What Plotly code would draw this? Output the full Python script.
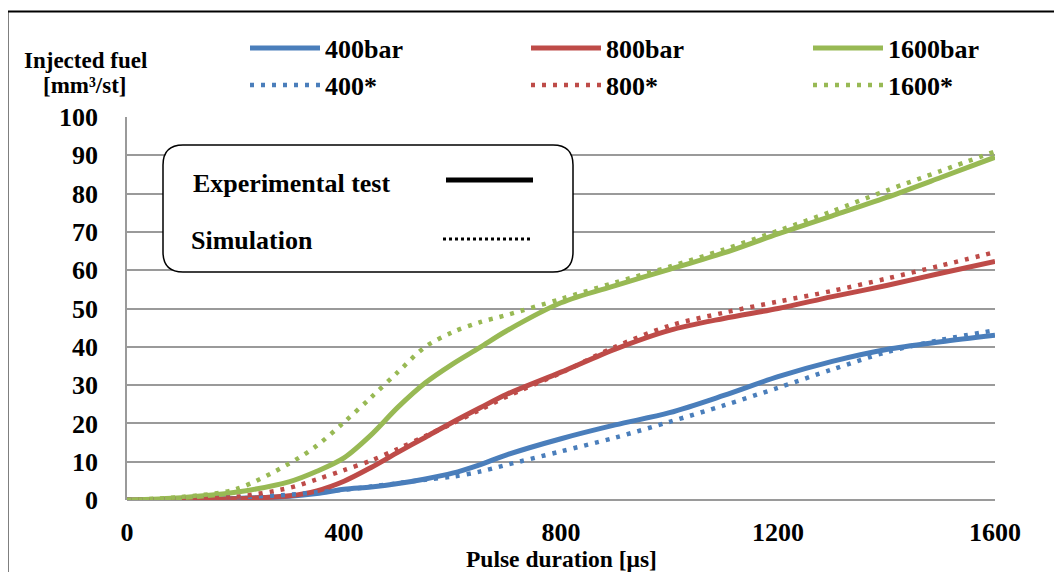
import plotly.graph_objects as go

# ---- data ----
pulse_us = [0, 100, 200, 300, 350, 400, 450, 500, 550, 600, 650, 700, 800, 900, 1000, 1100, 1200, 1300, 1400, 1500, 1600]
exp_400 = [0, 0.1, 0.4, 1.0, 1.7, 2.8, 3.4, 4.3, 5.5, 7.0, 9.2, 11.8, 16.0, 19.6, 22.8, 27.3, 32.2, 36.2, 39.3, 41.3, 43.0]
sim_400 = [0, 0.3, 0.7, 1.4, 2.0, 2.7, 3.5, 4.4, 5.3, 6.1, 7.4, 9.2, 12.7, 16.3, 20.4, 24.7, 29.3, 34.1, 38.6, 41.8, 44.3]
exp_800 = [0, 0, 0.3, 1.1, 2.4, 4.9, 8.5, 12.5, 16.4, 20.3, 24.0, 27.6, 33.4, 39.4, 44.3, 47.4, 50.0, 53.1, 56.0, 59.2, 62.3]
sim_800 = [0, 0.3, 0.8, 3.2, 5.4, 7.8, 10.3, 13.4, 16.7, 20.0, 23.5, 27.0, 33.2, 40.0, 45.5, 48.9, 51.8, 54.6, 57.8, 61.2, 64.7]
exp_1600 = [0, 0.6, 2.0, 4.8, 7.5, 11.0, 17.0, 24.3, 30.6, 35.5, 39.8, 44.2, 51.5, 56.0, 60.2, 64.5, 69.5, 74.2, 79.0, 84.2, 89.5]
sim_1600 = [0, 0.8, 2.8, 9.6, 14.2, 20.3, 26.8, 33.5, 40.0, 43.8, 46.4, 48.3, 52.5, 56.8, 60.9, 65.4, 70.3, 75.4, 80.8, 85.9, 91.0]

names = ["400bar", "800bar", "1600bar", "400*", "800*", "1600*"]
series = [exp_400, exp_800, exp_1600, sim_400, sim_800, sim_1600]
colors = ["#4A7EBB", "#BE4B48", "#98B954", "#4A7EBB", "#BE4B48", "#98B954"]
x_ticks = [0, 400, 800, 1200, 1600]
y_ticks = [0, 10, 20, 30, 40, 50, 60, 70, 80, 90, 100]

FONT = "'Liberation Serif', 'Times New Roman', Times, serif"

fig = go.Figure()
legend_keys = ["legend", "legend2", "legend3", "legend4", "legend5", "legend6"]
for i, (nm, ys, col) in enumerate(zip(names, series, colors)):
    solid = i < 3
    fig.add_trace(go.Scatter(
        x=pulse_us, y=ys, name=nm, mode="lines",
        line=dict(color=col, width=5 if solid else 4.5, shape="spline", smoothing=0.9,
                  dash="solid" if solid else "4px,7px"),
        legend=legend_keys[i], showlegend=True,
    ))

# page has an 8px body margin: work in reference-image pixels, shifted by OFF
OFF = 8
W, H = 1062 - OFF, 572 - OFF
L, T = 127 - OFF, 117 - OFF
R, B = 67, 72
pw, ph = W - L - R, H - T - B

def px2x(px):
    return (px - OFF - L) / pw

def py2y(py):
    return (H - B - (py - OFF)) / ph

ITEMW = 70
legend_font = dict(family=FONT, size=26, color="black", weight="bold")
lx = [325, 606, 888]
ly = [48, 85]
layout_legends = {}
for i, key in enumerate(legend_keys):
    layout_legends[key] = dict(
        x=px2x(lx[i % 3] - ITEMW - 10), y=py2y(ly[i // 3]), xanchor="left", yanchor="middle",
        orientation="h", font=legend_font, bgcolor="rgba(0,0,0,0)", borderwidth=0,
        itemclick=False, itemdoubleclick=False, tracegroupgap=0, itemwidth=ITEMW,
    )

fig.update_layout(
    width=W, height=H,
    margin=dict(l=L, r=R, t=T, b=B, pad=0),
    paper_bgcolor="white", plot_bgcolor="white",
    font=dict(family=FONT, color="black"),
    **layout_legends,
)

fig.update_xaxes(
    range=[0, 1600], tickvals=x_ticks, ticktext=[str(v) for v in x_ticks],
    showgrid=False, zeroline=False, showline=False, ticks="",
    tickfont=dict(family=FONT, size=26, color="black", weight="bold"),
    ticklabelstandoff=14,
)
fig.update_yaxes(
    range=[0, 100], tickvals=y_ticks,
    showgrid=True, gridcolor="#9A9A9A", gridwidth=1.5,
    zeroline=True, zerolinecolor="#9A9A9A", zerolinewidth=1.5,
    showline=True, linecolor="#9A9A9A", linewidth=1.5,
    ticks="", tickfont=dict(family=FONT, size=26, color="black", weight="bold"),
    ticklabelstandoff=22,
)

# outer chart border (only top/left visible in the frame)
fig.add_shape(type="rect", xref="paper", yref="paper",
              x0=px2x(7.5), x1=px2x(1080), y0=py2y(600), y1=py2y(11.5),
              line=dict(color="black", width=2), fillcolor="rgba(0,0,0,0)", layer="above")

# inset box with rounded corners
bx0, bx1, by0, by1 = px2x(163), px2x(573), py2y(272), py2y(145)
rx, ry = 20 / pw, 20 / ph
path = (f"M {bx0+rx},{by1} L {bx1-rx},{by1} Q {bx1},{by1} {bx1},{by1-ry} "
        f"L {bx1},{by0+ry} Q {bx1},{by0} {bx1-rx},{by0} L {bx0+rx},{by0} "
        f"Q {bx0},{by0} {bx0},{by0+ry} L {bx0},{by1-ry} Q {bx0},{by1} {bx0+rx},{by1} Z")
fig.add_shape(type="path", xref="paper", yref="paper", path=path,
              line=dict(color="black", width=1.5), fillcolor="white", layer="above")
fig.add_shape(type="line", xref="paper", yref="paper",
              x0=px2x(446), x1=px2x(533), y0=py2y(180), y1=py2y(180),
              line=dict(color="black", width=5), layer="above")
fig.add_shape(type="line", xref="paper", yref="paper",
              x0=px2x(443), x1=px2x(531), y0=py2y(239), y1=py2y(239),
              line=dict(color="black", width=3, dash="3px,3px"), layer="above")

ann_font = dict(family=FONT, size=26, color="black", weight="bold")
fig.add_annotation(text="Experimental test", xref="paper", yref="paper",
                   x=px2x(191), y=py2y(183), xanchor="left", yanchor="middle",
                   showarrow=False, font=ann_font)
fig.add_annotation(text="Simulation", xref="paper", yref="paper",
                   x=px2x(189), y=py2y(240), xanchor="left", yanchor="middle",
                   showarrow=False, font=ann_font)

title_font = dict(family=FONT, size=23, color="black", weight="bold")
fig.add_annotation(text="Injected fuel", xref="paper", yref="paper",
                   x=px2x(85), y=py2y(60), xanchor="center", yanchor="middle",
                   showarrow=False, font=title_font)
fig.add_annotation(text="[mm³/st]", xref="paper", yref="paper",
                   x=px2x(85), y=py2y(86), xanchor="center", yanchor="middle",
                   showarrow=False, font=title_font)
fig.add_annotation(text="Pulse duration [μs]", xref="paper", yref="paper",
                   x=0.5, y=py2y(559), xanchor="center", yanchor="middle",
                   showarrow=False, font=dict(family=FONT, size=23.5, color="black", weight="bold"))

fig.write_html("out.html")
